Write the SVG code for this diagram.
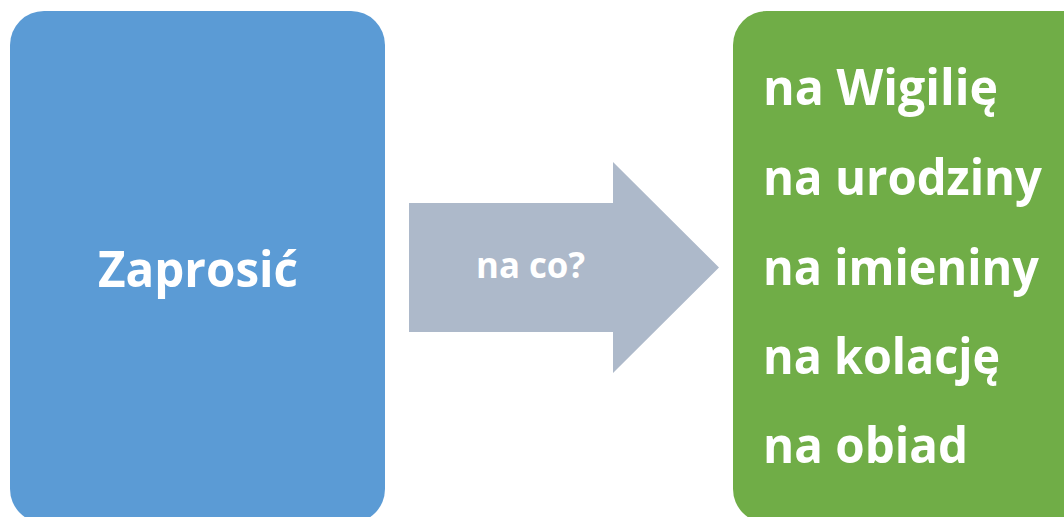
<svg xmlns="http://www.w3.org/2000/svg" width="1064" height="517" viewBox="0 0 1064 517">
<style>
.t{font-family:"Open Sans","Liberation Sans",sans-serif;font-weight:700;fill:#FFFFFF;}
.big{font-size:50px;}
.mid{font-size:36px;}
</style>
<rect width="1064" height="517" fill="#FFFFFF"/>
<g id="node-zaprosic">
<rect x="10" y="11" width="375" height="512" rx="34" ry="34" fill="#5B9BD5"/>
<text class="t big" x="98" y="287" textLength="200" lengthAdjust="spacingAndGlyphs">Zaprosić</text>
</g>
<g id="connectors">
<g id="arrow-na-co">
<path d="M409,203 H613 V162 L719,267.5 L613,373 V332 H409 Z" fill="#ADB9CA"/>
<text class="t mid" x="476" y="278" textLength="109" lengthAdjust="spacingAndGlyphs">na co?</text>
</g>
</g>
<g id="node-list">
<rect x="733" y="11" width="400" height="512" rx="34" ry="34" fill="#70AD47"/>
<text class="t big" x="763" y="105" textLength="235" lengthAdjust="spacingAndGlyphs">na Wigilię</text>
<text class="t big" x="763" y="195" textLength="279" lengthAdjust="spacingAndGlyphs">na urodziny</text>
<text class="t big" x="763" y="285" textLength="276" lengthAdjust="spacingAndGlyphs">na imieniny</text>
<text class="t big" x="763" y="374" textLength="237" lengthAdjust="spacingAndGlyphs">na kolację</text>
<text class="t big" x="763" y="463" textLength="205" lengthAdjust="spacingAndGlyphs">na obiad</text>
</g>
</svg>
